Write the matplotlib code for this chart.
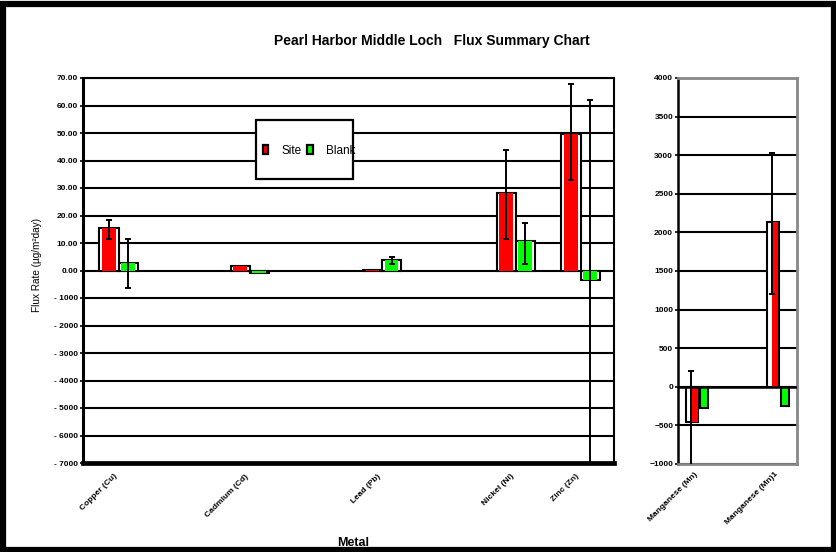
import numpy as np
from matplotlib import pyplot as plt
from matplotlib.patches import Patch, Rectangle

plt.rcParams["font.family"] = ["Liberation Sans", "DejaVu Sans"]

TITLE = "Pearl Harbor Middle Loch   Flux Summary Chart"
SITE_COLOR = "#ff0000"
BLANK_COLOR = "#00ff00"

# main panel, values as plotted
metals = ["Copper (Cu)", "Cadmium (Cd)", "Lead (Pb)", "Nickel (Ni)", "Zinc (Zn)"]
site = [15.4, 1.8, 0.3, 28.2, 49.8]
blank = [2.6, -1.0, 3.7, 10.6, -3.3]
site_lo = [11.4, np.nan, np.nan, 11.3, 33.0]
site_hi = [18.3, np.nan, np.nan, 44.0, 68.0]
blank_lo = [-6.2, np.nan, 2.5, 2.5, -70.0]
blank_hi = [11.4, np.nan, 4.8, 17.2, 62.0]
left_ticks = [70, 60, 50, 40, 30, 20, 10, 0, -10, -20, -30, -40, -50, -60, -70]
left_ticklabels = ["70.00", "60.00", "50.00", "40.00", "30.00", "20.00", "10.00", "0.00",
                   "- 1000", "- 2000", "- 3000", "- 4000", "- 5000", "- 6000", "- 7000"]

# manganese panel
mn_labels = ["Manganese (Mn)", "Manganese (Mn)1"]
mn_site = [-453, 2136]
mn_blank = [-272, -250]
mn_site_lo = [-1100, 1204]
mn_site_hi = [207, 3030]
right_ticks = [4000, 3500, 3000, 2500, 2000, 1500, 1000, 500, 0, -500, -1000]

# layout (axis units 0-100 across each panel)
group_x = [6.7, 31.4, 56.3, 81.5, 93.7]
bar_w = 3.6
mn_group_x = [17.6, 85.3]


def draw_bars(ax, xs, vals, width, color):
    # white bar with black outline and a narrower coloured fill inside
    ax.bar(xs, vals, width, color="white", edgecolor="black", linewidth=1.5, zorder=2)
    ax.bar(xs, vals, width * 0.72, color=color, linewidth=0, zorder=2.5)


def draw_err(ax, xs, vals, lo, hi):
    for x, v, a, b in zip(xs, vals, lo, hi):
        if np.isnan(a):
            continue
        ax.errorbar([x], [v], yerr=[[v - a], [b - v]], fmt="none", ecolor="black",
                    elinewidth=1.4, capsize=2.5, capthick=1.4, zorder=4)


fig = plt.figure(figsize=(8.37, 5.52), dpi=100)
W, H = 837.0, 552.0

ax = fig.add_axes([83 / W, 1 - 463 / H, 531 / W, 385 / H])
ax2 = fig.add_axes([678 / W, 1 - 464 / H, 119 / W, 386 / H])

# --- main panel
gx = np.array(group_x)
draw_bars(ax, gx - bar_w / 2, site, bar_w, SITE_COLOR)
draw_bars(ax, gx + bar_w / 2, blank, bar_w, BLANK_COLOR)
draw_err(ax, gx - bar_w / 2, site, site_lo, site_hi)
draw_err(ax, gx + bar_w / 2, blank, blank_lo, blank_hi)

ax.set_xlim(0, 100)
ax.set_ylim(-70, 70)
ax.set_yticks(left_ticks)
ax.set_yticklabels(left_ticklabels)
ax.set_xticks(gx)
ax.set_xticklabels(metals, rotation=45, ha="right", va="top")
ax.yaxis.grid(True, color="black", linewidth=1.5)
ax.set_axisbelow(True)
ax.tick_params(axis="y", labelsize=6, length=2.5, width=1.2, pad=1)
ax.tick_params(axis="x", labelsize=6, length=0, pad=7)
for lab in ax.get_yticklabels() + ax.get_xticklabels():
    lab.set_fontweight("bold")
for s in ["top", "right"]:
    ax.spines[s].set_linewidth(1.5)
ax.spines["left"].set_linewidth(2.2)
ax.spines["bottom"].set_linewidth(3.4)

# legend box sits over the gridlines
box = Rectangle((256 / W, 1 - 179 / H), 97 / W, 59 / H, transform=fig.transFigure,
                facecolor="white", edgecolor="black", linewidth=1.6, zorder=3, clip_on=False)
ax.add_artist(box)
leg = ax.legend(handles=[Patch(facecolor=SITE_COLOR, edgecolor="black", linewidth=1.6),
                         Patch(facecolor=BLANK_COLOR, edgecolor="black", linewidth=1.6)],
                labels=["Site", "Blank"], loc="center", bbox_to_anchor=(309 / W, 1 - 151 / H),
                bbox_transform=fig.transFigure, ncol=2, frameon=False, fontsize=8.5,
                handlelength=0.45, handleheight=0.8, handletextpad=1.1, columnspacing=0.5)
leg.set_zorder(6)

# --- manganese panel
mx = np.array(mn_group_x)
ax2.bar(mx - 5.5, mn_site, 10, color="white", edgecolor="black", linewidth=1.5, zorder=2)
ax2.bar(mx - 3.5, mn_site, 5, color=SITE_COLOR, linewidth=0, zorder=2.5)
ax2.bar(mx + 4.5, mn_blank, 7, color=BLANK_COLOR, edgecolor="black", linewidth=1.5, zorder=2)
draw_err(ax2, mx - 6.5, mn_site, mn_site_lo, mn_site_hi)
ax2.axhline(0, color="black", linewidth=1.8, zorder=3)

ax2.set_xlim(0, 100)
ax2.set_ylim(-1000, 4000)
ax2.set_yticks(right_ticks)
ax2.set_xticks(mx)
ax2.set_xticklabels(mn_labels, rotation=45, ha="right", va="top")
ax2.yaxis.grid(True, color="black", linewidth=1.5)
ax2.set_axisbelow(True)
ax2.tick_params(axis="y", labelsize=6, length=2.5, width=1.2, pad=1)
ax2.tick_params(axis="x", labelsize=6, length=0, pad=5)
for lab in ax2.get_yticklabels() + ax2.get_xticklabels():
    lab.set_fontweight("bold")
ax2.spines["left"].set_linewidth(1.8)
for s in ["top", "right", "bottom"]:
    ax2.spines[s].set_color("#888888")
    ax2.spines[s].set_linewidth(2.0)

# --- text and outer frame
fig.text(432 / W, 1 - 41 / H, TITLE, ha="center", va="center", fontsize=10, fontweight="bold")
fig.text(37 / W, 1 - 265 / H, "Flux Rate (µg/m²day)", rotation=90, ha="center", va="center",
         fontsize=7.2)
fig.text(353 / W, 1 - 543 / H, "Metal", ha="center", va="center", fontsize=9, fontweight="bold")
fig.patches.append(Rectangle((3.5 / W, 2.5 / H), 831 / W, 545.5 / H, transform=fig.transFigure,
                             fill=False, edgecolor="black", linewidth=4.5, zorder=10))

fig.savefig("out.png", dpi=100)
